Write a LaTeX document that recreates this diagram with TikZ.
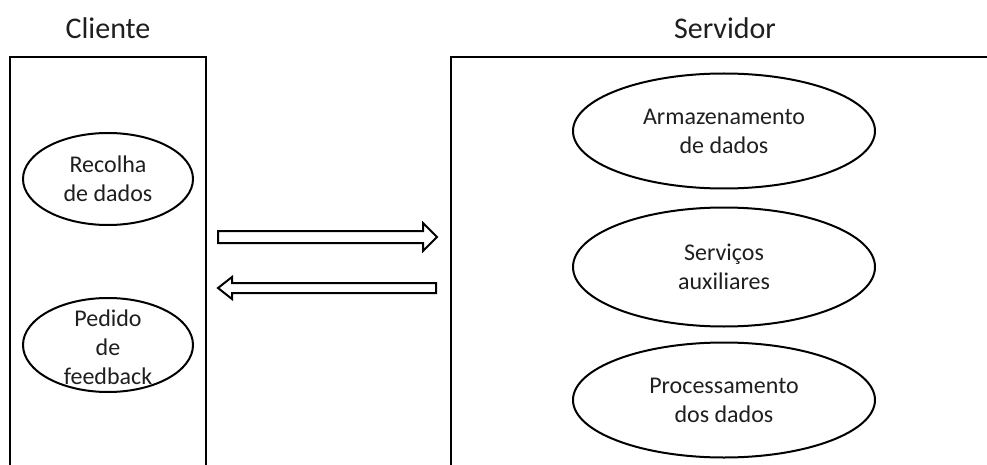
\documentclass[tikz,border=0pt]{standalone}
\usepackage{fontspec}
\setmainfont{Carlito}
\usetikzlibrary{shapes.geometric}
\begin{document}
\begin{tikzpicture}[x=1pt,y=-1pt,
  frame/.style={line width=2.2pt, line cap=rect},
  oval/.style={ellipse, draw, line width=2pt, inner sep=0pt},
  ovaltext/.style={align=center, inner sep=0pt, font=\fontsize{24}{29}\selectfont, text=black!88},
  title/.style={inner sep=0pt, font=\fontsize{30}{36}\selectfont, text=black!88},
  fatarrow/.style={draw, line width=2pt, fill=white, line join=miter}]
\useasboundingbox (0,0) rectangle (987,465);
\fill[white] (0,0) rectangle (987,465);
% titles
\node[title] (tc) at (108,28) {Cliente};
\node[title] (ts) at (725,28) {Servidor};
% frames
\draw[frame] (10,470) -- (10,57) -- (206,57) -- (206,470);
\draw[frame] (451,470) -- (451,57) -- (995,57);
% client ellipses
\node[oval, minimum width=170pt, minimum height=92pt] (rec) at (108,179) {};
\node[ovaltext] (rect) at (rec) {Recolha\\de dados};
\node[oval, minimum width=170pt, minimum height=94pt] (ped) at (108,345) {};
\node[ovaltext] (pedt) at (108,347) {Pedido\\de\\feedback};
% server ellipses
\node[oval, minimum width=302pt, minimum height=115pt] (arm) at (724,131) {};
\node[ovaltext] (armt) at (arm) {Armazenamento\\de dados};
\node[oval, minimum width=302pt, minimum height=119pt] (ser) at (724,267) {};
\node[ovaltext] (sert) at (ser) {Serviços\\auxiliares};
\node[oval, minimum width=302pt, minimum height=115pt] (pro) at (724,400) {};
\node[ovaltext] (prot) at (pro) {Processamento\\dos dados};
% arrows
\coordinate (a1s) at (218,237);
\coordinate (a1e) at (437,237);
\draw[fatarrow] (a1s) ++(0,-6) -- (423,231) -- (423,223) -- (a1e) -- (423,251) -- (423,243) -- (218,243) -- cycle;
\coordinate (a2s) at (436,288);
\coordinate (a2e) at (218,288);
\draw[fatarrow] (a2s) ++(0,-5) -- (232,283) -- (232,277) -- (a2e) -- (232,299) -- (232,293) -- (436,293) -- cycle;
\end{tikzpicture}
\end{document}
